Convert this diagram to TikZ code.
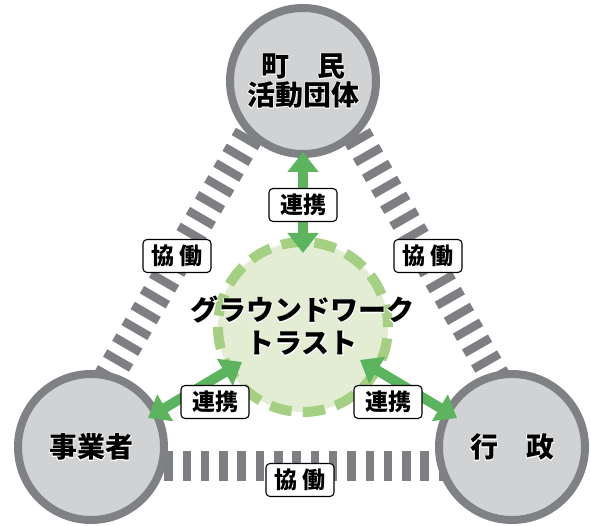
\documentclass[tikz,border=0pt]{standalone}
\usepackage{fontspec}
\newfontfamily\jp{Noto Sans CJK JP}
\newfontfamily\jphalo[FakeBold=5]{Noto Sans CJK JP}
\newcommand\halo[1]{\leavevmode\rlap{\color{white}\jphalo #1}#1}
\usetikzlibrary{arrows.meta}
\definecolor{ringgray}{HTML}{808185}
\definecolor{fillgray}{HTML}{D1D2D4}
\definecolor{bargray}{HTML}{7E7F83}
\definecolor{arrowgreen}{HTML}{5DB45F}
\definecolor{ringgreen}{HTML}{A5CF82}
\definecolor{fillgreen}{HTML}{E3EDD3}
\begin{document}
\begin{tikzpicture}[x=1pt,y=-1pt,
  actor/.style={circle, draw=ringgray, fill=fillgray, line width=8pt, minimum size=146pt, inner sep=0pt,
    align=center, font=\jp\bfseries\fontsize{28}{29}\selectfont},
  trust/.style={circle, draw=ringgreen, fill=fillgreen, line width=10pt, minimum size=170pt, inner sep=0pt,
    dash pattern=on 22pt off 11.38pt},
  trusttext/.style={align=center, font=\jp\bfseries\fontsize{28}{33}\selectfont},
  collab/.style={draw=bargray, line width=30pt, dash pattern=on 8.5pt off 9.8pt},
  link/.style={draw=arrowgreen, line width=10pt, {Triangle[width=30pt,length=20pt]}-{Triangle[width=30pt,length=20pt]}},
  tag/.style={draw=black, fill=white, rounded corners=4pt, line width=1.1pt, minimum width=68pt,
    minimum height=33pt, inner sep=2pt, font=\jp\bfseries\fontsize{23}{23}\selectfont}
]
\useasboundingbox (0,0) rectangle (591,526);
% collaboration bars
\coordinate (lb1) at (285.7,72);
\coordinate (lb2) at (73.7,437);
\coordinate (rb1) at (320.4,72);
\coordinate (rb2) at (529.4,437);
\coordinate (bb1) at (91,466);
\coordinate (bb2) at (512,466);
\draw[collab] (lb1) -- (lb2);
\draw[collab] (rb1) -- (rb2);
\draw[collab] (bb1) -- (bb2);
% actors
\node[actor] (citizen) at (303,81) {\halo{町　民}\\\halo{活動団体}};
\node[actor] (business) at (91,447) {\halo{事業者}};
\node[actor] (gov) at (512,447) {\halo{行　政}};
% trust
\node[trust] (trust) at (303,327) {};
\node[trusttext] (trusttxt) at (302,326) {\halo{グラウンドワーク}\\\halo{トラスト}};
% links
\coordinate (t1) at (303,152);
\coordinate (t2) at (303,253);
\coordinate (l1) at (242,362);
\coordinate (l2) at (148,418);
\coordinate (r1) at (360,360);
\coordinate (r2) at (457,418);
\draw[link] (t1) -- (t2);
\draw[link] (l1) -- (l2);
\draw[link] (r1) -- (r2);
% tags
\node[tag] (tagt) at (303,205) {連携};
\node[tag] (tagl) at (215,402) {連携};
\node[tag] (tagr) at (388,402) {連携};
\node[tag] (cl) at (177,256) {協 働};
\node[tag] (cr) at (428,256) {協 働};
\node[tag] (cb) at (300,480) {協 働};
\end{tikzpicture}
\end{document}
